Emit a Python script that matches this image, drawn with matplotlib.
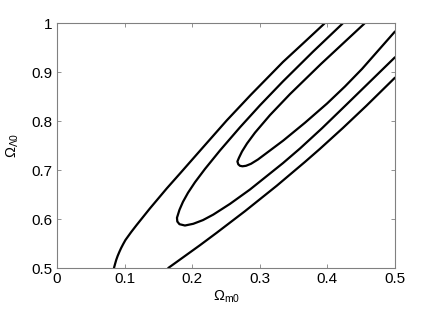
import matplotlib
matplotlib.use("Agg")
import matplotlib.pyplot as plt

# contour curves (Omega_m0, Omega_Lambda0)
outer_left_x = [0.0843, 0.0859, 0.0876, 0.0897, 0.0922, 0.0949, 0.0980, 0.1013,
                0.1098, 0.1178, 0.1374, 0.1623, 0.1820, 0.2164, 0.2510, 0.2865,
                0.3343, 0.3639, 0.3957]
outer_left_y = [0.5000, 0.5082, 0.5164, 0.5245, 0.5327, 0.5409, 0.5491, 0.5573,
                0.5736, 0.5879, 0.6217, 0.6626, 0.6933, 0.7474, 0.8016, 0.8538,
                0.9213, 0.9591, 1.0000]

outer_right_x = [0.1646, 0.2115, 0.2362, 0.2781, 0.3250, 0.3669, 0.3891,
                 0.4231, 0.4575, 0.5000]
outer_right_y = [0.5000, 0.5466, 0.5720, 0.6162, 0.6681, 0.7170, 0.7438,
                 0.7865, 0.8315, 0.8892]

middle_x = [0.4226, 0.3787, 0.3343, 0.3003, 0.2707, 0.2411, 0.2189, 0.2041,
            0.1938, 0.1864, 0.1812, 0.1775, 0.1780, 0.1812, 0.1893, 0.2016,
            0.2160, 0.2312, 0.2559, 0.2855, 0.3343, 0.3595, 0.3920, 0.4280,
            0.5000]
middle_y = [1.0000, 0.9423, 0.8816, 0.8327, 0.7877, 0.7403, 0.7025, 0.6753,
            0.6538, 0.6354, 0.6190, 0.6027, 0.5951, 0.5896, 0.5869, 0.5904,
            0.5980, 0.6092, 0.6311, 0.6605, 0.7145, 0.7444, 0.7857, 0.8339,
            0.9309]

inner_x = [0.4549, 0.3905, 0.3447, 0.3151, 0.2929, 0.2811, 0.2737, 0.2692,
           0.2669, 0.2682, 0.2707, 0.2744, 0.2796, 0.2870, 0.2973, 0.3151,
           0.3348, 0.3669, 0.3994, 0.4260, 0.4512, 0.5000]
inner_y = [1.0000, 0.9172, 0.8556, 0.8127, 0.7767, 0.7546, 0.7382, 0.7254,
           0.7178, 0.7121, 0.7090, 0.7080, 0.7090, 0.7131, 0.7219, 0.7403,
           0.7607, 0.7971, 0.8362, 0.8712, 0.9070, 0.9836]

xticks = [0, 0.1, 0.2, 0.3, 0.4, 0.5]
yticks = [0.5, 0.6, 0.7, 0.8, 0.9, 1.0]

plt.rcParams['font.family'] = ['Liberation Sans', 'DejaVu Sans']
plt.rcParams['mathtext.fontset'] = 'custom'
plt.rcParams['mathtext.rm'] = 'Liberation Sans'
plt.rcParams['mathtext.it'] = 'Liberation Sans:italic'

fig = plt.figure(figsize=(4.36, 3.12), dpi=100)
ax = fig.add_axes([0.1307, 0.141, 0.7752, 0.7837])

for xs, ys in [(outer_left_x, outer_left_y), (outer_right_x, outer_right_y),
               (middle_x, middle_y), (inner_x, inner_y)]:
    ax.plot(xs, ys, color='black', linewidth=1.6,
            solid_joinstyle='round', solid_capstyle='round')

ax.set_xlim(0, 0.5)
ax.set_ylim(0.5, 1)
ax.set_xticks(xticks)
ax.set_xticklabels(['0', '0.1', '0.2', '0.3', '0.4', '0.5'])
ax.set_yticks(yticks)
ax.set_yticklabels(['0.5', '0.6', '0.7', '0.8', '0.9', '1'])
ax.tick_params(direction='in', length=3, width=0.6, colors='#808080',
               labelcolor='black', labelsize=11, top=True, right=True, pad=3)
for s in ax.spines.values():
    s.set_color('#808080')
    s.set_linewidth(0.8)

ax.set_xlabel(r'$\Omega_{\mathrm{m0}}$', fontsize=10.5, labelpad=2)
ax.set_ylabel(r'$\Omega_{\Lambda0}$', fontsize=10.5, labelpad=8)

fig.savefig('out.png', dpi=100)
